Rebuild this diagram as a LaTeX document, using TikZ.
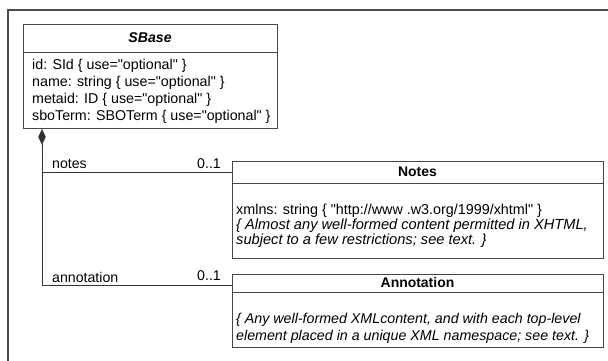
\documentclass[tikz,border=0pt]{standalone}
\usepackage{fontspec}
\setmainfont{Liberation Sans}
\usetikzlibrary{arrows.meta}
\newcommand{\dq}{\textquotedbl}
\newcommand{\itbody}{\fontsize{14.7}{15}\selectfont\itshape}
\tikzset{
  umlbox/.style={draw=black!72, line width=0.9bp, anchor=north west, inner sep=0pt},
  divider/.style={draw=black!72, line width=0.9bp},
  boxtitle/.style={font=\fontsize{14}{16}\selectfont\bfseries, inner sep=0pt},
  attrs/.style={font=\fontsize{14.3}{17}\selectfont, align=left, anchor=north west, inner sep=0pt},
  rolelabel/.style={font=\fontsize{14.2}{16}\selectfont, inner sep=0pt},
  link/.style={draw=black!80, line width=0.9bp},
  frameline/.style={draw=black!70, line width=1.6bp}
}
\begin{document}
\begin{tikzpicture}[x=1bp,y=-1bp]
\useasboundingbox (0,0) rectangle (608,360);
% enclosing frame, open to the right and bottom
\draw[frameline] (8,362) -- (8,10) -- (610,10);

% SBase class
\node[umlbox, minimum width=254bp, minimum height=104bp] (sbase) at (23,24) {};
\draw[divider] (sbase.west |- 0,52) -- (sbase.east |- 0,52);
\node[boxtitle, font=\fontsize{14.2}{16}\selectfont\bfseries\itshape] (sbaset) at (150,38) {SBase};
\node[attrs] (sbasea) at (32,59) {id: SId \{ use=\dq optional\dq\ \}\\
name: string \{ use=\dq optional\dq\ \}\\
metaid: ID \{ use=\dq optional\dq\ \}\\
sboTerm: SBOTerm \{ use=\dq optional\dq\ \}};

% Notes class
\node[umlbox, minimum width=371bp, minimum height=97bp] (notes) at (232,161) {};
\draw[divider] (notes.west |- 0,183) -- (notes.east |- 0,183);
\node[boxtitle] (notest) at (417.5,172) {Notes};
\node[attrs, font=\fontsize{14.4}{15}\selectfont] (notesa) at (236,204) {xmlns: string \{ \dq http://www .w3.org/1999/xhtml\dq\ \}\\
{\itbody \{ Almost any well-formed content permitted in XHTML,}\\
{\itbody subject to a few restrictions; see text. \}}};

% Annotation class
\node[umlbox, minimum width=371bp, minimum height=73bp] (annot) at (232,274) {};
\draw[divider] (annot.west |- 0,292) -- (annot.east |- 0,292);
\node[boxtitle] (annott) at (417.5,283) {Annotation};
\node[attrs, font=\fontsize{14.3}{17}\selectfont\itshape] (annota) at (236,313) {\{ Any well-formed XMLcontent, and with each top-level\\
element placed in a unique XML namespace; see text. \}};

% composition connectors
\coordinate (branch) at (42,172);
\draw[link, {Diamond[length=16bp,width=7.5bp]}-] (sbase.south -| 42,0) -- (42,285) -- (annot.west |- 0,285);
\draw[link] (branch) -- (notes.west |- branch);

% role names and multiplicities
\node[rolelabel, anchor=west] (rn) at (52,164) {notes};
\node[rolelabel, anchor=east] (mn) at (221,164) {0..1};
\node[rolelabel, anchor=west] (ra) at (52,277) {annotation};
\node[rolelabel, anchor=east] (ma) at (221,276) {0..1};
\end{tikzpicture}
\end{document}
